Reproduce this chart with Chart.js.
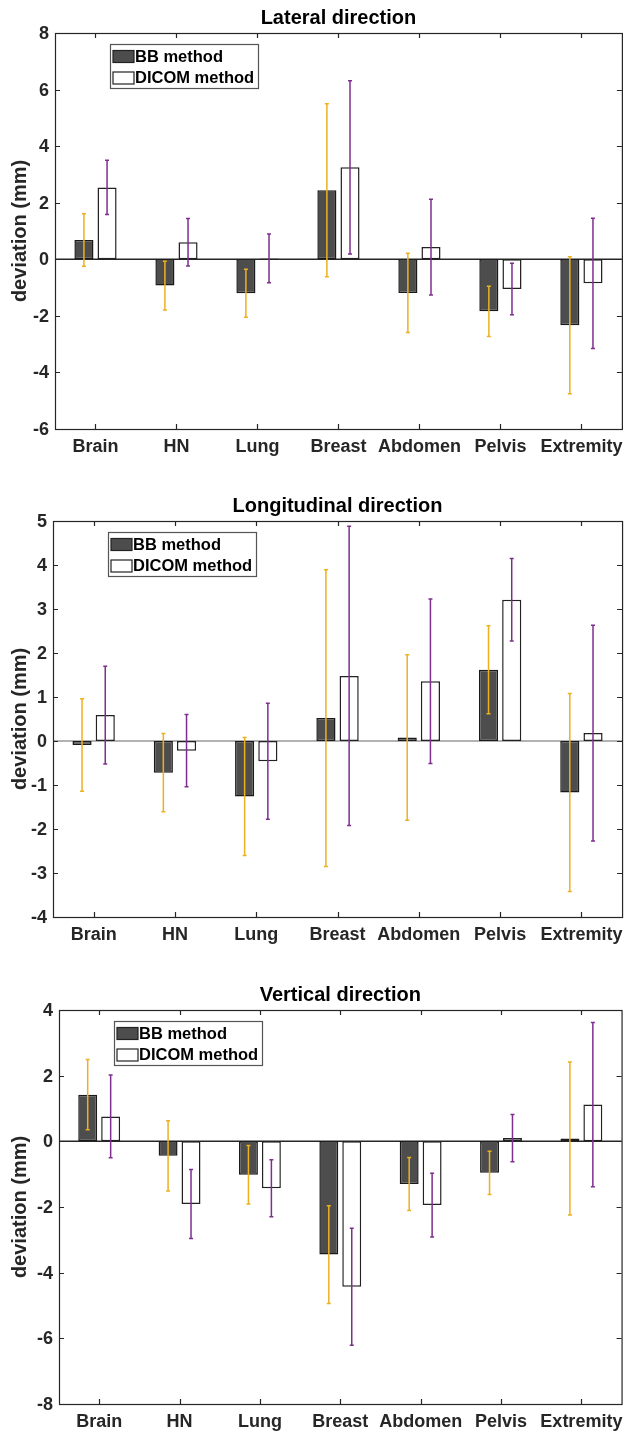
<!DOCTYPE html>
<html>
<head>
<meta charset="utf-8">
<script src="https://cdn.jsdelivr.net/npm/chart.js@4.4.1/dist/chart.umd.min.js"></script>
<style>
  body { margin: 0; background: #fff; }
  .panel { position: absolute; left: 0; width: 630px; }
</style>
</head>
<body>
<div class="panel" style="top:0;height:470px"><canvas id="lateralChart"></canvas></div>
<div class="panel" style="top:488px;height:470px"><canvas id="longChart"></canvas></div>
<div class="panel" style="top:976px;height:459px"><canvas id="vertChart"></canvas></div>
<script>
const categories = ['Brain', 'HN', 'Lung', 'Breast', 'Abdomen', 'Pelvis', 'Extremity'];
const seriesNames = ['BB method', 'DICOM method'];

// lateral direction (mean, std in mm)
const lateralBB = [0.68, -0.93, -1.20, 2.44, -1.19, -1.84, -2.33];
const lateralBBSd = [0.93, 0.86, 0.85, 3.06, 1.40, 0.89, 2.42];
const lateralDicom = [2.54, 0.60, 0.03, 3.25, 0.43, -1.05, -0.85];
const lateralDicomSd = [0.96, 0.84, 0.86, 3.06, 1.69, 0.91, 2.30];
const lateralTicks = [-6, -4, -2, 0, 2, 4, 6, 8];

// longitudinal direction
const longBB = [-0.09, -0.72, -1.26, 0.52, 0.08, 1.62, -1.17];
const longBBSd = [1.05, 0.89, 1.34, 3.37, 1.88, 1.00, 2.25];
const longDicom = [0.59, -0.22, -0.46, 1.48, 1.36, 3.21, 0.18];
const longDicomSd = [1.11, 0.82, 1.32, 3.40, 1.87, 0.94, 2.45];
const longTicks = [-4, -3, -2, -1, 0, 1, 2, 3, 4, 5];

// vertical direction
const vertBB = [1.42, -0.44, -1.02, -3.45, -1.30, -0.96, 0.09];
const vertBBSd = [1.07, 1.07, 0.89, 1.49, 0.81, 0.66, 2.33];
const vertDicom = [0.76, -1.91, -1.43, -4.43, -1.94, 0.10, 1.12];
const vertDicomSd = [1.26, 1.05, 0.87, 1.78, 0.97, 0.72, 2.50];
const vertTicks = [-8, -6, -4, -2, 0, 2, 4];

const fontFamily = "'Liberation Sans', Arial, Helvetica, sans-serif";
const axisColor = '#262626';

// error bars drawn from each bar's position and the y scale
const errorBarPlugin = {
  id: 'errorBars',
  afterDatasetsDraw(chart) {
    const ctx = chart.ctx;
    const yScale = chart.scales.y;
    chart.data.datasets.forEach((ds, i) => {
      const meta = chart.getDatasetMeta(i);
      ctx.save();
      ctx.strokeStyle = ds.errorColor;
      ctx.lineWidth = 1.5;
      meta.data.forEach((bar, j) => {
        const top = yScale.getPixelForValue(ds.data[j] + ds.sd[j]);
        const bot = yScale.getPixelForValue(ds.data[j] - ds.sd[j]);
        ctx.beginPath();
        ctx.moveTo(bar.x, top); ctx.lineTo(bar.x, bot);
        ctx.moveTo(bar.x - 2, top); ctx.lineTo(bar.x + 2, top);
        ctx.moveTo(bar.x - 2, bot); ctx.lineTo(bar.x + 2, bot);
        ctx.stroke();
      });
      ctx.restore();
    });
  }
};

function framePlugin(zeroColor) {
  return {
    id: 'frame',
    beforeDatasetsDraw(chart) {
      const { ctx, chartArea: a } = chart;
      const y0 = chart.scales.y.getPixelForValue(0);
      ctx.save();
      ctx.strokeStyle = zeroColor;
      ctx.lineWidth = 1.5;
      ctx.beginPath();
      ctx.moveTo(a.left, y0); ctx.lineTo(a.right, y0);
      ctx.stroke();
      ctx.restore();
    },
    afterDraw(chart) {
      const { ctx, chartArea: a } = chart;
      const xs = chart.scales.x, ys = chart.scales.y;
      ctx.save();
      ctx.strokeStyle = axisColor;
      ctx.lineWidth = 1.2;
      ctx.strokeRect(a.left + 0.5, a.top + 0.5, a.right - a.left, a.bottom - a.top);
      ctx.beginPath();
      xs.ticks.forEach((t, i) => {
        const x = Math.round(xs.getPixelForTick(i)) + 0.5;
        ctx.moveTo(x, a.bottom); ctx.lineTo(x, a.bottom - 5);
        ctx.moveTo(x, a.top); ctx.lineTo(x, a.top + 5);
      });
      ys.ticks.forEach((t, i) => {
        const y = Math.round(ys.getPixelForTick(i)) + 0.5;
        ctx.moveTo(a.left, y); ctx.lineTo(a.left + 5, y);
        ctx.moveTo(a.right, y); ctx.lineTo(a.right - 5, y);
      });
      ctx.stroke();
      ctx.restore();
    }
  };
}

// boxed legend inside the axes, top left
const boxLegendPlugin = {
  id: 'boxLegend',
  afterDraw(chart) {
    const { ctx, chartArea: a } = chart;
    const bx = a.left + 55.5, by = a.top + 11.5, bw = 148, bh = 44;
    ctx.save();
    ctx.fillStyle = '#fff';
    ctx.fillRect(bx, by, bw, bh);
    ctx.strokeStyle = '#555';
    ctx.lineWidth = 1.2;
    ctx.strokeRect(bx, by, bw, bh);
    ctx.font = 'bold 16.5px ' + fontFamily;
    ctx.textBaseline = 'middle';
    chart.data.datasets.forEach((ds, i) => {
      const cy = by + 12 + i * 21.5;
      ctx.fillStyle = ds.backgroundColor;
      ctx.fillRect(bx + 2.5, cy - 6, 21, 12);
      ctx.strokeStyle = '#222';
      ctx.lineWidth = 1.2;
      ctx.strokeRect(bx + 2.5, cy - 6, 21, 12);
      ctx.fillStyle = '#000';
      ctx.fillText(ds.label, bx + 24.5, cy + 0.5);
    });
    ctx.restore();
  }
};

function makeChart(id, title, bb, bbSd, dicom, dicomSd, ticks, box) {
  const ctx = document.getElementById(id).getContext('2d');
  return new Chart(ctx, {
    type: 'bar',
    data: {
      labels: categories,
      datasets: [
        {
          label: seriesNames[0],
          data: bb,
          sd: bbSd,
          errorColor: '#EDB120',
          backgroundColor: '#4d4d4d',
          borderColor: '#1a1a1a',
          borderWidth: 1.5,
          borderSkipped: false,
          categoryPercentage: 0.571,
          barPercentage: 0.825
        },
        {
          label: seriesNames[1],
          data: dicom,
          sd: dicomSd,
          errorColor: '#7E2F8E',
          backgroundColor: '#ffffff',
          borderColor: '#222222',
          borderWidth: 1.5,
          borderSkipped: false,
          categoryPercentage: 0.571,
          barPercentage: 0.825
        }
      ]
    },
    options: {
      responsive: true,
      maintainAspectRatio: false,
      animation: false,
      layout: { padding: { left: 0, right: box.right, top: 0, bottom: 0 } },
      plugins: {
        legend: { display: false },
        tooltip: { enabled: false },
        title: {
          display: true,
          text: title,
          fullSize: false,
          color: '#000',
          font: { family: fontFamily, size: 20, weight: 'bold' },
          padding: { top: box.titleTop, bottom: 3 }
        }
      },
      scales: {
        x: {
          offset: true,
          grid: { display: false, drawTicks: false },
          border: { display: false },
          ticks: {
            autoSkip: false,
            color: axisColor,
            padding: 7,
            maxRotation: 0,
            font: { family: fontFamily, size: 18, weight: 'bold' }
          },
          afterFit: s => { s.height = box.xHeight; }
        },
        y: {
          min: ticks[0],
          max: ticks[ticks.length - 1],
          grid: { display: false, drawTicks: false },
          border: { display: false },
          ticks: {
            stepSize: ticks[1] - ticks[0],
            color: axisColor,
            padding: 6,
            labelOffset: 1,
            font: { family: fontFamily, size: 18, weight: 'bold' }
          },
          title: {
            display: true,
            text: 'deviation (mm)',
            color: axisColor,
            font: { family: fontFamily, size: 20, weight: 'bold' },
            padding: { top: 8, bottom: 0 }
          },
          afterFit: s => { s.width = box.yWidth; }
        }
      }
    },
    plugins: [framePlugin(box.zeroColor), errorBarPlugin, boxLegendPlugin]
  });
}

makeChart('lateralChart', 'Lateral direction', lateralBB, lateralBBSd, lateralDicom, lateralDicomSd, lateralTicks,
  { right: 4, titleTop: 6, xHeight: 41, yWidth: 55, zeroColor: '#262626' });
makeChart('longChart', 'Longitudinal direction', longBB, longBBSd, longDicom, longDicomSd, longTicks,
  { right: 2, titleTop: 6, xHeight: 41, yWidth: 53, zeroColor: '#999999' });
makeChart('vertChart', 'Vertical direction', vertBB, vertBBSd, vertDicom, vertDicomSd, vertTicks,
  { right: 7, titleTop: 7, xHeight: 31, yWidth: 59, zeroColor: '#262626' });
</script>
</body>
</html>
